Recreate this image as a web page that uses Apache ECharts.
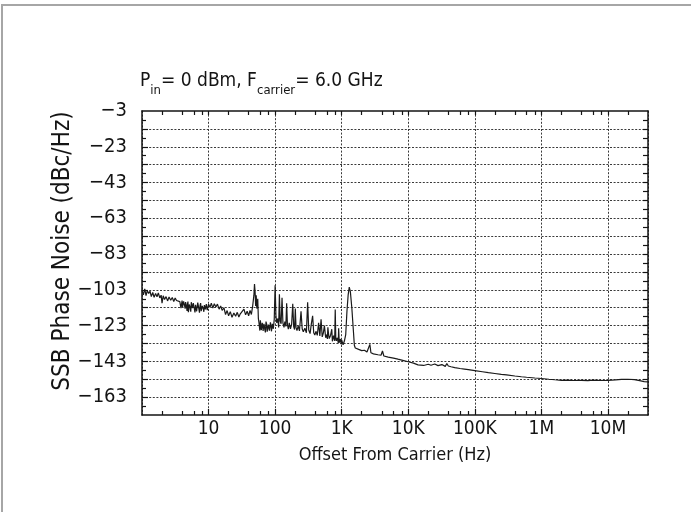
<!DOCTYPE html>
<html><head><meta charset="utf-8">
<script src="https://cdn.jsdelivr.net/npm/echarts@6/dist/echarts.min.js"></script>
<style>html,body{margin:0;padding:0;background:#fff}#c{width:691px;height:512px}</style>
</head><body><div id="c"></div>
<script>
// ---- text ----
const titleParts = ['P', 'in', '= 0 dBm, F', 'carrier', '= 6.0 GHz'];
const xAxisTitle = 'Offset From Carrier (Hz)';
const yAxisTitle = 'SSB Phase Noise (dBc/Hz)';
const xDecadeLabels = ['1', '10', '100', '1K', '10K', '100K', '1M', '10M'];

// ---- axes ----
const xMin = 1, xMax = 4e7;
const yMin = -173, yMax = -3;
const yLabelValues = [-163, -143, -123, -103, -83, -63, -43, -23, -3];
const yGridValues = [-163, -153, -143, -133, -123, -113, -103, -93, -83, -73, -63, -53, -43, -33, -23, -13];
const yMinorValues = [-168, -158, -148, -138, -128, -118, -108, -98, -88, -78, -68, -58, -48, -38, -28, -18, -8];
const xMinorValues = [2, 4, 6, 8, 20, 40, 60, 80, 200, 400, 600, 800, 2e3, 4e3, 6e3, 8e3, 2e4, 4e4, 6e4, 8e4,
  2e5, 4e5, 6e5, 8e5, 2e6, 4e6, 6e6, 8e6, 2e7];
const xDecadeValues = [10, 100, 1e3, 1e4, 1e5, 1e6, 1e7];

// ---- trace: [offset Hz, dBc/Hz] ----
const traceLow = [
  [1.0,-103.0],[1.05,-105.8],[1.1,-102.5],[1.15,-106.2],[1.2,-103.4],[1.26,-105.0],[1.32,-103.8],[1.38,-106.8],
  [1.45,-104.5],[1.52,-107.2],[1.6,-105.0],[1.68,-106.9],[1.76,-104.8],[1.85,-107.5],[1.94,-106.0],[2.0,-110.5],
  [2.08,-106.3],[2.18,-108.4],[2.3,-106.8],[2.42,-109.2],[2.55,-107.0],[2.7,-108.8],[2.85,-107.3],[3.0,-109.5],
  [3.15,-107.6],[3.3,-109.0],[3.5,-107.9],[3.7,-109.6],[3.85,-113.2],[4.0,-109.0],[4.07,-112.6],[4.15,-111.8],
  [4.22,-109.5],[4.3,-108.9],[4.37,-112.0],[4.45,-113.5],[4.52,-109.8],[4.6,-110.0],[4.68,-112.9],[4.75,-114.8],
  [4.82,-111.0],[4.9,-109.6],[4.97,-115.5],[5.05,-113.8],[5.12,-111.2],[5.2,-110.4],[5.3,-113.0],[5.4,-115.2],
  [5.5,-109.9],[5.6,-110.8],[5.7,-113.2],[5.8,-114.0],[5.9,-110.5],[6.0,-109.8],[6.12,-113.6],[6.25,-115.6],
  [6.38,-111.4],[6.5,-110.6],[6.62,-115.0],[6.75,-114.2],[6.88,-110.2],[7.0,-111.0],[7.15,-113.6],[7.3,-115.8],
  [7.45,-111.8],[7.6,-110.4],[7.75,-114.9],[7.9,-114.6],[8.05,-112.0],[8.2,-111.2],[8.35,-113.8],[8.5,-115.3],
  [8.65,-111.5],[8.8,-110.8],[8.95,-114.0],[9.1,-114.8],[9.25,-111.0],[9.4,-111.6],[9.55,-114.4],[9.7,-113.6],
  [9.85,-112.2],[10,-111.0],
  [10.5,-112.8],[11,-110.4],[11.6,-113.2],[12.2,-110.8],[12.9,-112.6],[13.6,-111.0],[14.4,-113.8],[15.2,-112.0],
  [16,-114.5],[17,-113.0],[18,-116.8],[19,-114.6],[20,-117.5],[21.2,-115.2],[22.5,-118.4],[24,-116.0],
  [25.5,-117.8],[27,-115.6],[28.5,-118.2],[30,-116.4],[32,-117.3],[34,-113.8],[36,-117.0],[38,-115.0],
  [40,-117.5],[42,-114.5],[44,-116.8],[46,-112.0],[48,-106.0],[49,-99.8],[50,-104.0],[51,-112.0],
  [52,-106.0],[53,-113.5],[54.8,-108.0],[56,-119.0],[57,-121.0],[58,-123.5],[59,-125.8],[60,-120.0],
  [61,-119.5],[62,-125.5],[63,-126.5],[64,-121.5],[65,-122.8],[66,-126.0],[67,-127.0],[68,-122.0],
  [69,-123.4],[70,-125.2],[71.5,-126.8],[73,-120.8],[74.5,-122.0],[76,-126.4],[77.5,-127.2],[79,-122.5],
  [80.5,-121.8],[82,-125.8],[83.5,-126.9],[85,-121.2],[86.5,-123.0],[88,-126.2],[89.5,-127.0],[91,-122.0],
  [92.5,-122.6],[94,-124.8],[95.5,-125.5],[97,-119.5]
];
const traceMid = [
  [100,-100.5],[103,-118],[106,-121.5],[110,-119],[113,-124],[116,-105.5],[119,-120.5],[123,-122],
  [127,-107.5],[131,-121.5],[136,-124],[140,-120.8],[145,-123.5],[149,-110.5],[153,-122.5],[158,-125],
  [163,-121.5],[170,-124.8],[177,-122.3],[184,-110.8],[190,-123.5],[196,-125.2],[201,-113.5],[206,-124],
  [213,-125.8],[222,-123.2],[232,-126],[245,-115],[255,-124.8],[265,-126.4],[280,-124.5],[295,-127],
  [308,-110],[320,-125.5],[335,-127.5],[350,-122],[366,-117.5],[380,-127],[395,-128.3],[410,-126.2],
  [430,-128.5],[450,-121.5],[470,-128.8],[490,-119.5],[510,-129.3],[530,-127.2],[550,-123],[575,-129.8],
  [600,-128],[610,-130.5],[620,-124],[635,-127.8],[650,-130.3],[665,-131.2],[680,-128.5],[695,-129.0],
  [710,-125],[725,-131.8],[740,-131],[755,-128.6],[770,-129.2],[785,-131.5],[800,-114],[815,-130.0],
  [830,-131.5],[845,-132.4],[860,-129.8],[875,-130.2],[890,-132.8],[900,-124.5],[915,-130.6],[930,-132.5],
  [945,-133.2],[960,-130.5],[975,-131.0],[990,-133.5]
];
const traceHigh = [
  [1000,-131],[1050,-133.8],[1100,-131.5],[1150,-128],[1200,-115],[1250,-106],[1300,-101.5],[1350,-104],
  [1420,-113],[1500,-126],[1550,-134],[1600,-135.5],[1800,-136.3],[2000,-137],[2200,-136.8],[2400,-137.8],
  [2550,-137.5],[2650,-133.5],[2750,-138.2],[3000,-138.8],[3500,-139.3],[3900,-139.6],[4100,-137.2],[4300,-140],
  [5000,-140.6],[6000,-141.2],[7000,-141.8],[8000,-142.3],[10000,-143.2],[12000,-144],[14000,-145],[17000,-145.3],
  [20000,-144.6],[22000,-145.2],[25000,-144.5],[28000,-145.4],[32000,-144.8],[36000,-145.8],[38000,-144.2],[40000,-145.6],
  [44000,-146],[50000,-146.5],[60000,-147],[70000,-147.3],[80000,-147.6],[100000,-148.2],[130000,-148.8],[160000,-149.3],
  [200000,-149.8],[250000,-150.3],[300000,-150.6],[400000,-151.2],[500000,-151.6],[600000,-151.9],[800000,-152.3],[1e6,-152.6],
  [1.3e6,-153.0],[1.6e6,-153.3],[2e6,-153.6],[2.5e6,-153.5],[3e6,-153.7],[4e6,-153.6],[5e6,-153.8],[6e6,-153.5],
  [8e6,-153.7],[1e7,-153.6],[1.3e7,-153.4],[1.6e7,-153.1],[2e7,-153.0],[2.5e7,-153.2],[3e7,-153.8],[3.5e7,-154.3],[4e7,-154.5]
];

const FONT = "'Liberation Sans Narrow','DejaVu Sans Condensed','Arial Narrow',sans-serif";
const INK = '#141414';
const minus = v => String(v).replace('-', '\u2212');

const chart = echarts.init(document.getElementById('c'), null, {renderer: 'canvas'});
const titleText = titleParts.map((t, i) => (i % 2 === 0 ? '{m|' : '{s|') + t + '}').join('');

const axisLineStyle = {color: INK, width: 1.5};
const gridLine = {show: true, lineStyle: {color: '#3a3a3a', width: 1, type: [2, 1.6]}};

chart.setOption({
  animation: false,
  backgroundColor: '#fff',
  graphic: [{
    type: 'rect', silent: true,
    shape: {x: 2, y: 5, width: 720, height: 540},
    style: {fill: 'none', stroke: '#a6a6a6', lineWidth: 2}
  }],
  title: {
    left: 135, top: 60,
    text: titleText,
    textStyle: {
      fontWeight: 'normal',
      rich: {
        m: {fontSize: 19, fontFamily: FONT, fontWeight: 'normal', color: INK, lineHeight: 32},
        s: {fontSize: 13, fontFamily: FONT, fontWeight: 'normal', color: INK, lineHeight: 32, verticalAlign: 'bottom'}
      }
    }
  },
  grid: {left: 142, top: 111, right: 43, bottom: 97, containLabel: false},
  xAxis: [{
    type: 'log', logBase: 10, min: xMin, max: xMax, position: 'bottom', gridIndex: 0,
    axisLine: {show: true, lineStyle: axisLineStyle},
    axisTick: {show: true, inside: true, length: 6, lineStyle: {color: INK, width: 1.2}},
    splitLine: gridLine,
    axisLabel: {
      show: true, margin: 5, fontSize: 19, fontFamily: FONT, color: INK,
      showMinLabel: false, showMaxLabel: false,
      formatter: v => xDecadeLabels[Math.round(Math.log10(v))] || ''
    },
    name: xAxisTitle, nameLocation: 'middle', nameGap: 31, nameMoveOverlap: false,
    nameTextStyle: {fontSize: 18, fontFamily: FONT, color: INK}
  }, {
    type: 'log', logBase: 10, min: xMin, max: xMax, position: 'bottom', gridIndex: 0,
    axisLine: {show: false},
    axisTick: {show: true, inside: true, length: 4, customValues: xMinorValues, lineStyle: {color: INK, width: 1.2}},
    splitLine: {show: false}, axisLabel: {show: false}
  }, {
    type: 'log', logBase: 10, min: xMin, max: xMax, position: 'top', gridIndex: 0,
    axisLine: {show: true, lineStyle: axisLineStyle},
    axisTick: {show: true, inside: true, length: 4, customValues: xDecadeValues.concat(xMinorValues), lineStyle: {color: INK, width: 1.2}},
    splitLine: {show: false}, axisLabel: {show: false}
  }],
  yAxis: [{
    type: 'value', min: yMin, max: yMax, position: 'left', gridIndex: 0,
    axisLine: {show: true, lineStyle: axisLineStyle},
    axisTick: {show: true, inside: true, length: 6, customValues: yGridValues, lineStyle: {color: INK, width: 1.2}},
    splitLine: gridLine,
    axisLabel: {
      show: true, margin: 15, fontSize: 20, fontFamily: FONT, color: INK,
      customValues: yLabelValues, formatter: minus
    },
    name: yAxisTitle, nameLocation: 'middle', nameGap: 67, nameMoveOverlap: false,
    nameTextStyle: {fontSize: 24, fontFamily: FONT, color: INK, padding: [0, 0, 0, 24]}
  }, {
    type: 'value', min: yMin, max: yMax, position: 'left', gridIndex: 0,
    axisLine: {show: false},
    axisTick: {show: true, inside: true, length: 4, customValues: yMinorValues, lineStyle: {color: INK, width: 1.2}},
    splitLine: {show: false}, axisLabel: {show: false}
  }, {
    type: 'value', min: yMin, max: yMax, position: 'right', gridIndex: 0,
    axisLine: {show: true, lineStyle: axisLineStyle},
    axisTick: {show: true, inside: true, length: 5, customValues: yGridValues.concat(yMinorValues), lineStyle: {color: INK, width: 1.2}},
    splitLine: {show: false}, axisLabel: {show: false}
  }],
  series: [{
    type: 'line', xAxisIndex: 0, yAxisIndex: 0,
    data: traceLow.concat(traceMid, traceHigh),
    showSymbol: false, symbol: 'none',
    lineStyle: {color: '#1a1a1a', width: 1.2},
    z: 5
  }]
});
</script></body></html>
